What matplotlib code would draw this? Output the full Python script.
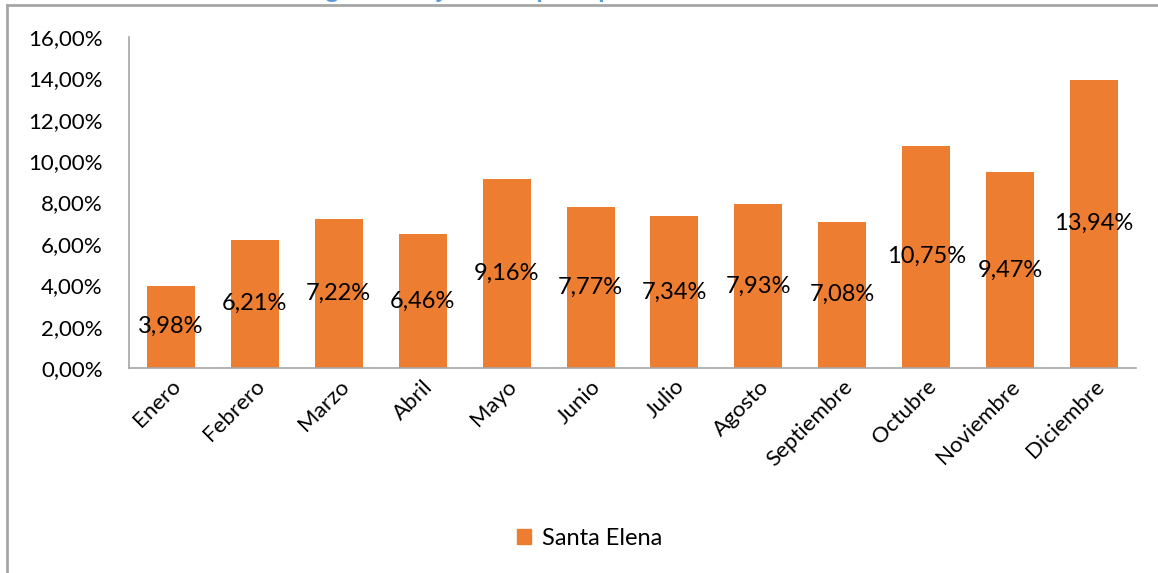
import matplotlib.pyplot as plt
from matplotlib.lines import Line2D
from matplotlib.patches import Patch

meses = ['Enero', 'Febrero', 'Marzo', 'Abril', 'Mayo', 'Junio', 'Julio',
         'Agosto', 'Septiembre', 'Octubre', 'Noviembre', 'Diciembre']
valores = [3.98, 6.21, 7.22, 6.46, 9.16, 7.77, 7.34, 7.93, 7.08, 10.75, 9.47, 13.94]
serie = 'Santa Elena'
yticks = [0, 2, 4, 6, 8, 10, 12, 14, 16]

plt.rcParams['font.family'] = ['Lato', 'DejaVu Sans']
naranja = '#ED7D31'
gris = '#A6A6A6'

fig = plt.figure(figsize=(11.58, 5.73), dpi=100)
ax = fig.add_axes([0.1114, 0.3578, 0.8696, 0.5776])

x = range(len(meses))
bars = ax.bar(x, valores, width=0.572, color=naranja)
for b, v in zip(bars, valores):
    ax.text(b.get_x() + b.get_width() / 2, v / 2, ('%.2f%%' % v).replace('.', ','),
            ha='center', va='center', fontsize=17, color='black')

ax.set_xlim(-0.5, len(meses) - 0.5)
ax.set_ylim(0, 16)
ax.set_yticks(yticks)
ax.set_yticklabels([('%.2f%%' % t).replace('.', ',') for t in yticks], fontsize=16)
ax.set_xticks(list(x))
ax.set_xticklabels(meses, fontsize=16, rotation=45, ha='right', rotation_mode='anchor')
ax.tick_params(axis='both', length=0, pad=6)
ax.tick_params(axis='y', pad=19)
for s in ['top', 'right']:
    ax.spines[s].set_visible(False)
for s in ['left', 'bottom']:
    ax.spines[s].set_color(gris)
    ax.spines[s].set_linewidth(1.2)

fig.legend(handles=[Patch(color=naranja, label=serie)], loc='center',
           bbox_to_anchor=(0.509, 0.061), frameon=False, fontsize=17,
           handlelength=0.6, handleheight=0.6, handletextpad=0.45)

# titulo cortado en la parte superior
fig.text(0.505, 1 + 2 / 573, 'Figura 39: Ejecución presupuestaria mensual 2016',
         ha='center', va='baseline', fontsize=18, fontweight='bold', color='#5B9BD5')

# borde del cuadro del grafico
fig.add_artist(Line2D([7 / 1158, 7 / 1158], [0, 1 - 5 / 573], color=gris, lw=2,
                      transform=fig.transFigure, zorder=10))
fig.add_artist(Line2D([7 / 1158, 1157 / 1158], [1 - 5 / 573, 1 - 5 / 573], color=gris, lw=2,
                      transform=fig.transFigure, zorder=10))

fig.savefig('out.png', dpi=100)
